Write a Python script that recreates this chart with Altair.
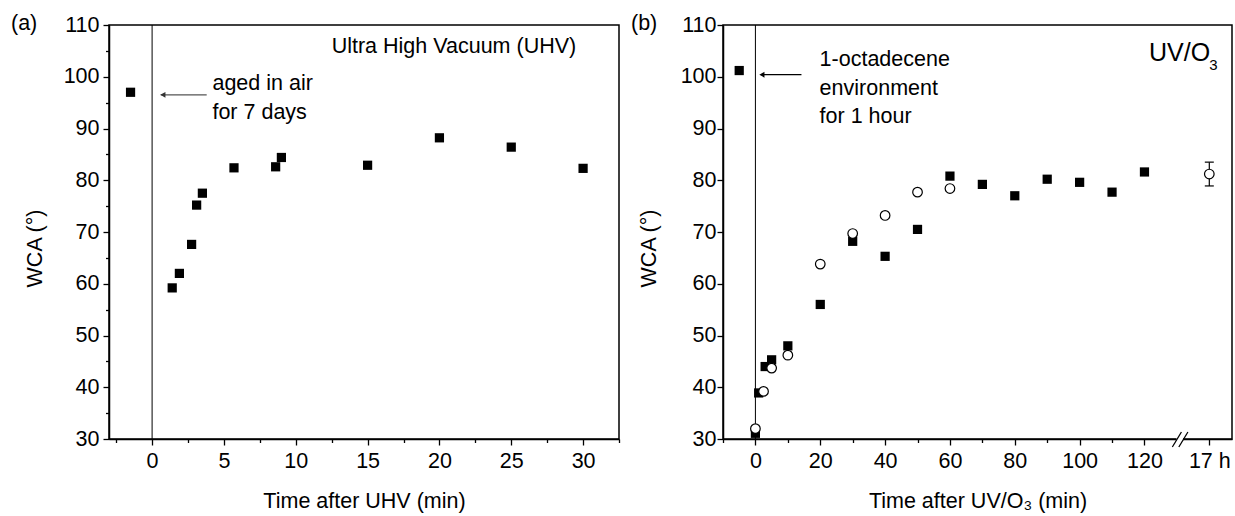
import altair as alt
import pandas as pd

# ---------------- data ----------------
# panel (a): UHV
a_x = [-1.5, 1.4, 1.9, 2.75, 3.1, 3.5, 5.7, 8.6, 9.0, 15, 20, 25, 30]
a_y = [97.0, 59.2, 62.0, 67.6, 75.2, 77.5, 82.4, 82.6, 84.4, 82.9, 88.2, 86.4, 82.3]

# panel (b): UV/O3 (x = 140 stands for the "17 h" position after the axis break)
b_sq_x = [-5, 0, 1, 3, 5, 10, 20, 30, 40, 50, 60, 70, 80, 90, 100, 110, 120]
b_sq_y = [101.2, 31.1, 38.9, 44.0, 45.3, 48.0, 56.0, 68.2, 65.3, 70.5, 80.8,
          79.2, 77.0, 80.2, 79.6, 77.7, 81.6]
b_ci_x = [0, 2.5, 5, 10, 20, 30, 40, 50, 60, 140]
b_ci_y = [32.0, 39.2, 43.7, 46.2, 63.8, 69.7, 73.2, 77.7, 78.4, 81.2]
b_err_x = [140]
b_err_lo = [78.9]
b_err_hi = [83.5]

a_xticks = [-2.5 + 2.5 * i for i in range(15)]
b_xticks = [-10, 0, 10, 20, 30, 40, 50, 60, 70, 80, 90, 100, 110, 120, 140]
yticks = [30 + 5 * i for i in range(17)]

FONT = "Liberation Sans"
FS = 21.5
W_A, W_B, H = 510, 509, 414


def yaxis(label_pad):
    return alt.Axis(
        values=yticks,
        labelExpr="datum.value % 10 == 0 ? datum.label : ''",
        tickSize={"condition": {"test": "datum.value % 10 == 0", "value": 6}, "value": 3.5},
        labelPadding=label_pad,
        title="WCA (°)",
        titleX=-74, titleY=223, titleBaseline="middle", titleAngle=-90,
        labelOverlap=False, grid=False,
    )


# ---------------- panel (a) ----------------
xa = alt.X("x:Q", scale=alt.Scale(domain=[-3, 32.5], nice=False, zero=False),
           axis=alt.Axis(values=a_xticks,
                         labelExpr="datum.value % 5 == 0 ? datum.label : ''",
                         tickSize={"condition": {"test": "datum.value % 5 == 0", "value": 6}, "value": 3.5},
                         labelPadding=5, labelFlush=False, labelOverlap=False, grid=False,
                         title="Time after UHV (min)", titleY=68, titleBaseline="alphabetic"))
ya = alt.Y("y:Q", scale=alt.Scale(domain=[30, 110], nice=False, zero=False), axis=yaxis(4))

da = pd.DataFrame({"x": a_x, "y": a_y})
vline_a = alt.Chart(pd.DataFrame({"x": [0]})).mark_rule(color="black", strokeWidth=1).encode(x=xa)
pts_a = alt.Chart(da).mark_square(size=85, color="black", opacity=1).encode(x=xa, y=ya)

arrow_a = alt.Chart(pd.DataFrame({"x": [3.8], "x2": [0.6], "y": [96.5]})).mark_rule(
    color="#555555", strokeWidth=1.2).encode(x=xa, x2="x2:Q", y=ya)
head_a = alt.Chart(pd.DataFrame({"x": [0.75], "y": [96.5]})).mark_point(
    shape="triangle-left", filled=True, size=35, color="#333333", opacity=1).encode(x=xa, y=ya)

txt_a = alt.Chart(pd.DataFrame({
    "x": [4.2, 4.2, 12.5],
    "y": [98.6, 93.0, 105.75],
    "t": ["aged in air", "for 7 days", "Ultra High Vacuum (UHV)"],
})).mark_text(align="left", baseline="middle", fontSize=FS, font=FONT, color="black").encode(
    x=xa, y=ya, text="t:N")

lab_a = alt.Chart(pd.DataFrame({"t": ["(a)"]})).mark_text(
    align="left", baseline="middle", fontSize=FS, font=FONT, color="black").encode(
    x=alt.value(-98), y=alt.value(-1), text="t:N")

panel_a = alt.layer(vline_a, arrow_a, head_a, pts_a, txt_a, lab_a).properties(width=W_A, height=H)

# ---------------- panel (b) ----------------
xb = alt.X("x:Q", scale=alt.Scale(domain=[-10, 147], nice=False, zero=False),
           axis=alt.Axis(values=b_xticks,
                         labelExpr="datum.value == 140 ? '17 h' : (datum.value % 20 == 0 ? datum.label : '')",
                         tickSize={"condition": {"test": "datum.value % 20 == 0", "value": 6}, "value": 3.5},
                         labelPadding=5, labelFlush=False, labelOverlap=False, grid=False,
                         title="Time after UV/O₃ (min)", titleY=68, titleBaseline="alphabetic"))
yb = alt.Y("y:Q", scale=alt.Scale(domain=[30, 110], nice=False, zero=False), axis=yaxis(1))

vline_b = alt.Chart(pd.DataFrame({"x": [0]})).mark_rule(color="black", strokeWidth=1).encode(x=xb)
sq_b = alt.Chart(pd.DataFrame({"x": b_sq_x, "y": b_sq_y})).mark_square(
    size=85, color="black", opacity=1).encode(x=xb, y=yb)
err_b = alt.Chart(pd.DataFrame({"x": b_err_x, "lo": b_err_lo, "hi": b_err_hi})).mark_rule(
    color="black", strokeWidth=1.2).encode(x=xb, y=alt.Y("lo:Q"), y2="hi:Q")
cap_b = alt.Chart(pd.DataFrame({"x": b_err_x * 2, "y": b_err_lo + b_err_hi})).mark_tick(
    orient="horizontal", size=9, thickness=1.2, color="black", opacity=1).encode(x=xb, y=yb)
ci_b = alt.Chart(pd.DataFrame({"x": b_ci_x, "y": b_ci_y})).mark_point(
    shape="circle", size=92, fill="white", stroke="black", strokeWidth=1.2, filled=False,
    opacity=1, fillOpacity=1).encode(x=xb, y=yb)

arrow_b = alt.Chart(pd.DataFrame({"x": [14.2], "x2": [1.8], "y": [100.4]})).mark_rule(
    color="black", strokeWidth=1.2).encode(x=xb, x2="x2:Q", y=yb)
head_b = alt.Chart(pd.DataFrame({"x": [2.0], "y": [100.4]})).mark_point(
    shape="triangle-left", filled=True, size=35, color="black", opacity=1).encode(x=xb, y=yb)

txt_b = alt.Chart(pd.DataFrame({
    "x": [19.8, 19.8, 19.8],
    "y": [103.2, 97.6, 92.2],
    "t": ["1-octadecene", "environment", "for 1 hour"],
})).mark_text(align="left", baseline="middle", fontSize=FS, font=FONT, color="black").encode(
    x=xb, y=yb, text="t:N")
uv_b = alt.Chart(pd.DataFrame({"x": [121.4], "y": [104.6], "t": ["UV/O"]})).mark_text(
    align="left", baseline="middle", fontSize=25, font=FONT, color="black").encode(x=xb, y=yb, text="t:N")
sub_b = alt.Chart(pd.DataFrame({"x": [140.0], "y": [102.3], "t": ["3"]})).mark_text(
    align="left", baseline="middle", fontSize=15, font=FONT, color="black").encode(x=xb, y=yb, text="t:N")

brk_rect = alt.Chart(pd.DataFrame({"x": [129.9], "x2": [131.9]})).mark_rect(color="white").encode(
    x=xb, x2="x2:Q", y=alt.value(H - 3), y2=alt.value(H + 3))
brk = alt.Chart(pd.DataFrame({"x": [128.6, 130.6], "x2": [131.4, 133.4]})).mark_rule(
    color="black", strokeWidth=1.3).encode(x=xb, x2="x2:Q", y=alt.value(H + 8), y2=alt.value(H - 7))

lab_b = alt.Chart(pd.DataFrame({"t": ["(b)"]})).mark_text(
    align="left", baseline="middle", fontSize=FS, font=FONT, color="black").encode(
    x=alt.value(-92), y=alt.value(-1), text="t:N")

panel_b = alt.layer(vline_b, arrow_b, head_b, sq_b, err_b, cap_b, ci_b, txt_b, uv_b, sub_b,
                    brk_rect, brk, lab_b).properties(width=W_B, height=H)

chart = alt.hconcat(panel_a, panel_b, spacing=104, bounds="flush").properties(
    padding={"left": 10, "top": 12, "right": 0, "bottom": 0}
).configure(font=FONT).configure_view(stroke="black", strokeWidth=1.5).configure_axis(
    domainColor="black", domainWidth=1.5, tickColor="black", tickWidth=1.3,
    labelFont=FONT, labelFontSize=FS, labelColor="black",
    titleFont=FONT, titleFontSize=FS, titleFontWeight="normal", titleColor="black",
)

chart.save("out.html", embed_options={"renderer": "svg", "actions": False})
